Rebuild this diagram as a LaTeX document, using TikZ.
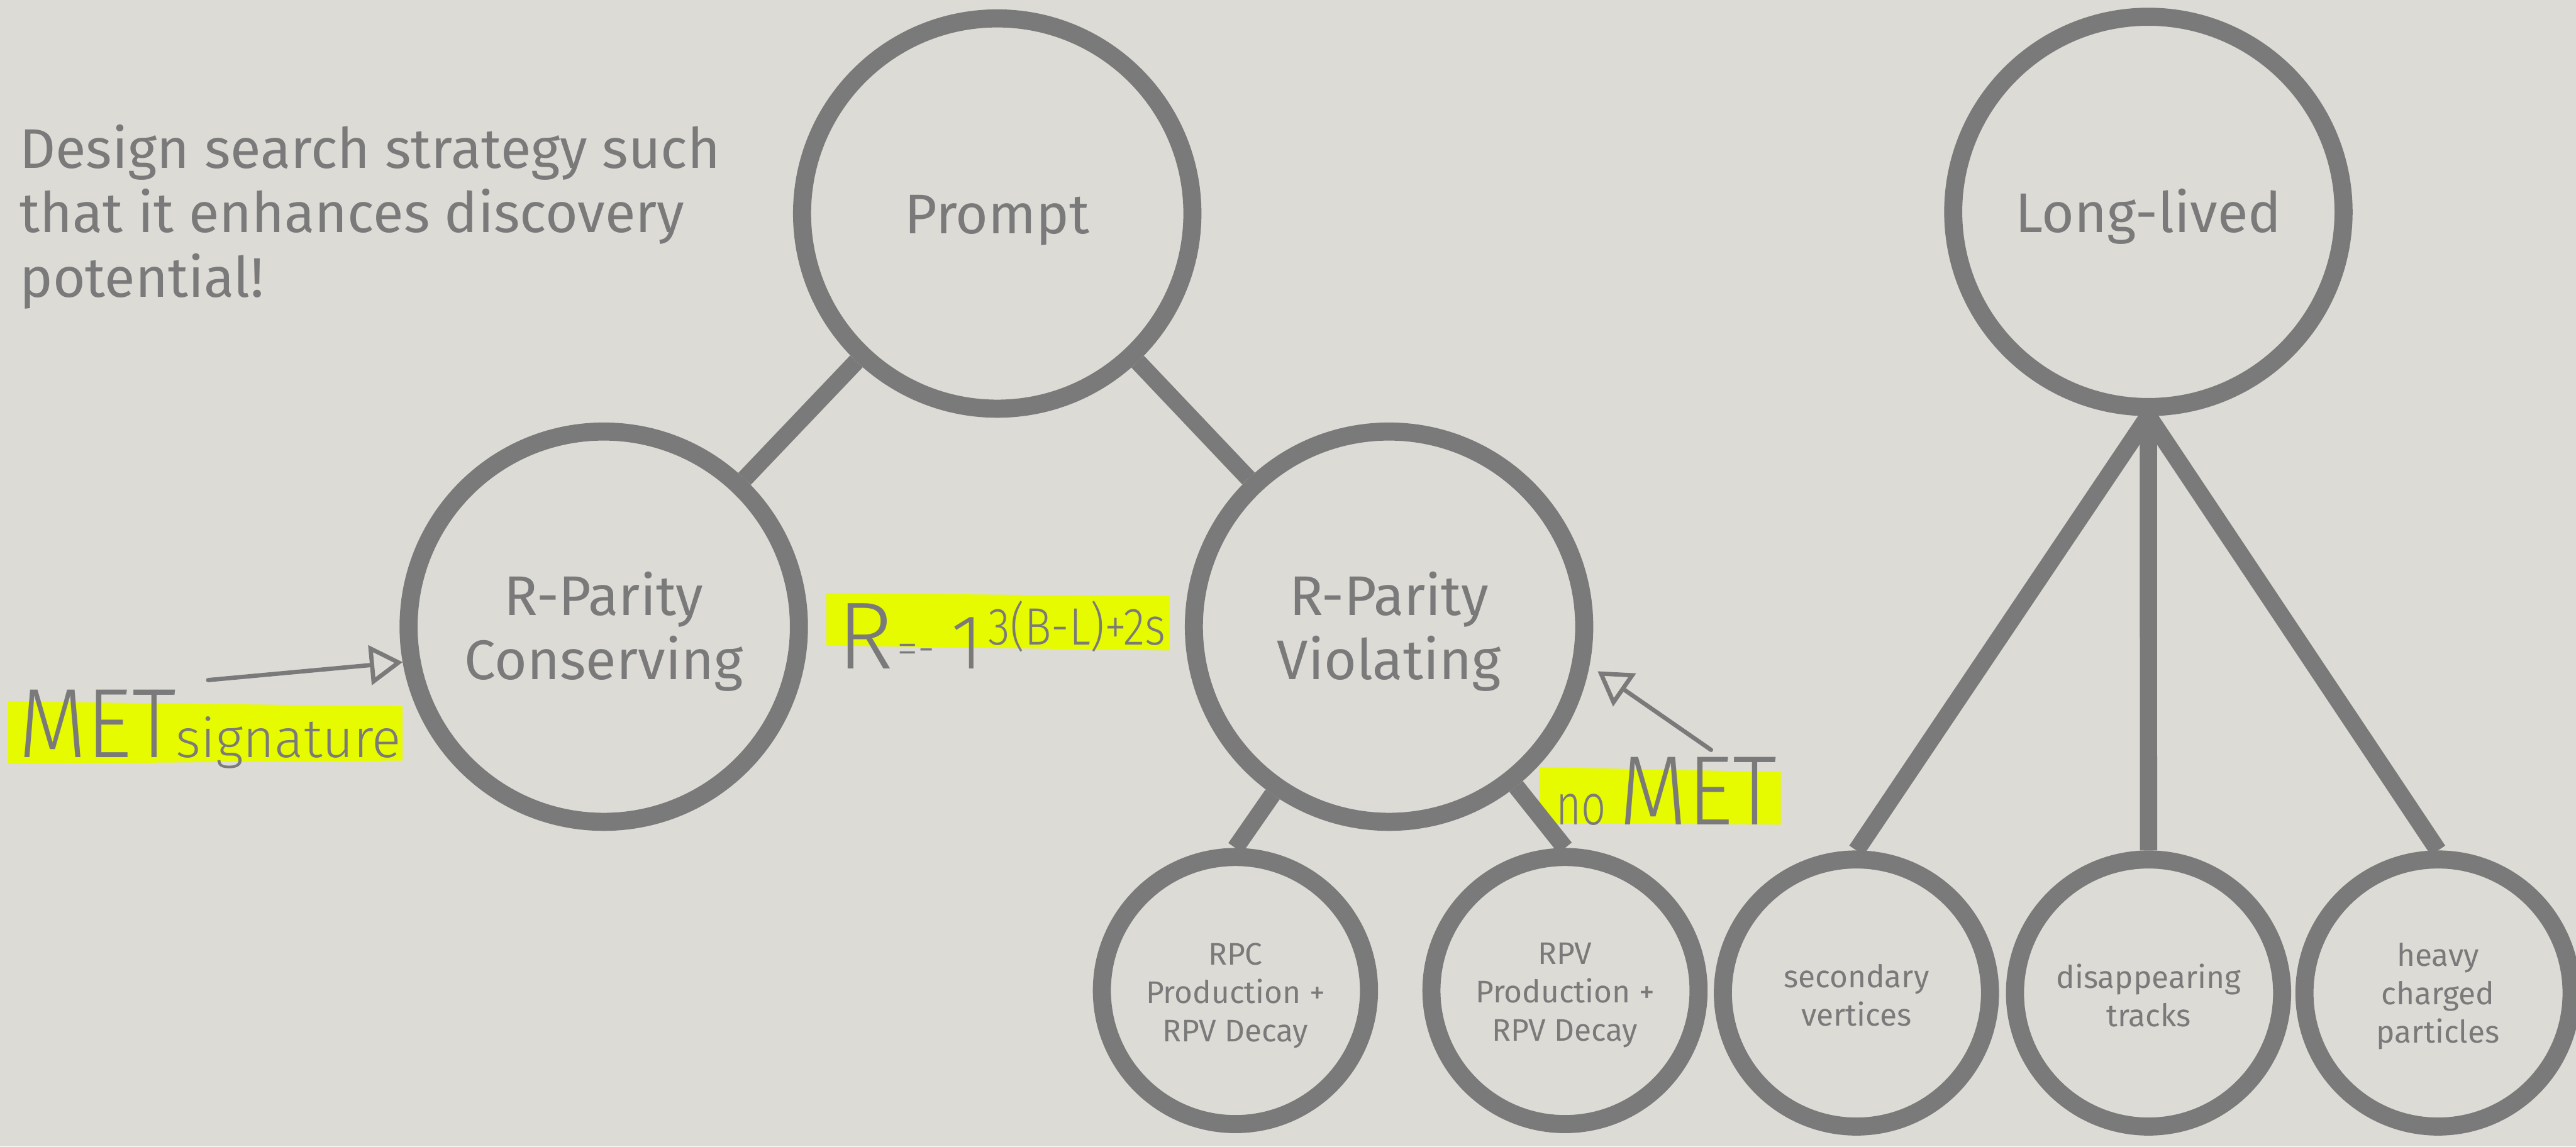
\documentclass[tikz,border=0pt]{standalone}
\usepackage{fontspec}
\setmainfont{Fira Sans}
\newfontfamily\handfont{Fira Sans Light}
\usepackage{graphicx}
\usetikzlibrary{arrows.meta}

\definecolor{paper}{RGB}{221,219,214}
\definecolor{ink}{RGB}{122,122,122}
\definecolor{hilite}{RGB}{230,250,0}
\newcommand\fsz[2]{\fontsize{#1}{#2}\selectfont}

\begin{document}
\begin{tikzpicture}[x=1pt,y=-1pt,
  bubble/.style={circle, draw=ink, line width=11pt, inner sep=0pt,
    minimum size=237.6pt},
  smallbubble/.style={circle, draw=ink, line width=11pt, inner sep=0pt,
    minimum size=162.6pt},
  bigtext/.style={text=ink, align=center, inner sep=0pt, font=\fsz{34}{39}},
  smalltext/.style={text=ink, align=center, inner sep=0pt, font=\fsz{19}{23.3}},
  link/.style={draw=ink, line width=10.5pt},
  hand/.style={text=ink, inner sep=0pt, anchor=base west, font=\handfont},
  highlight/.style={fill=hilite},
  scribble/.style={draw=ink, line width=2.6pt, line cap=round,
    -{Triangle[open, length=20pt, width=24pt, line width=2.6pt]}}
]
% paper
\fill[paper] (0,0) rectangle (1568,698);
\useasboundingbox (0,0) rectangle (1568,698);

% marker strokes
\fill[highlight] (5,427) -- (245,430) -- (245,463) -- (5,465) -- cycle;
\fill[highlight] (503,361) -- (712,363) -- (712,396) -- (503,393) -- cycle;
\fill[highlight] (937,467) -- (1084,470) -- (1084,502) -- (937,501) -- cycle;

% heading (base anchor sits on the last line)
\node[text=ink, anchor=base west, align=left, inner sep=0pt, font=\fsz{34}{39.2}]
  (goal) at (11.8,180.7) {Design search strategy such\\that it enhances discovery\\potential!};

% bubbles
\node[bubble] (prompt) at (607,130) {};
\node[bubble] (rpc) at (367.5,381.5) {};
\node[bubble] (rpv) at (845.5,381.5) {};
\node[bubble] (ll) at (1307.7,129) {};

\node[smallbubble] (rpcdec) at (752,603) {};
\node[smallbubble] (rpvdec) at (952.6,603) {};
\node[smallbubble] (sv) at (1130,604.5) {};
\node[smallbubble] (dt) at (1307.8,604.5) {};
\node[smallbubble] (hcp) at (1484,604.5) {};

% bubble captions
\node[bigtext, yshift=-4pt] (prompt-t) at (prompt) {Prompt};
\node[bigtext, yshift=-3pt] (rpc-t) at (rpc) {R-Parity\\Conserving};
\node[bigtext, yshift=-3pt] (rpv-t) at (rpv) {R-Parity\\Violating};
\node[bigtext, yshift=-3pt] (ll-t) at (ll) {Long-lived};
\node[smalltext, yshift=-3pt] (rpcdec-t) at (rpcdec) {RPC\\Production +\\RPV Decay};
\node[smalltext, yshift=-3pt] (rpvdec-t) at (rpvdec) {RPV\\Production +\\RPV Decay};
\node[smalltext, yshift=-1.5pt] (sv-t) at (sv) {secondary\\vertices};
\node[smalltext, yshift=-1.5pt] (dt-t) at (dt) {disappearing\\tracks};
\node[smalltext, yshift=-2pt] (hcp-t) at (hcp) {heavy\\charged\\particles};

% tree links
\draw[link] (prompt) -- (rpc);
\draw[link] (prompt) -- (rpv);
\draw[link] (rpv) -- (rpcdec.north);
\draw[link] (rpv) -- (rpvdec.north);
\draw[link] (ll.south) -- (sv.north);
\draw[link] (ll.south) -- (dt.north);
\draw[link] (ll.south) -- (hcp.north);

% handwritten notes
\node[hand] (metsig) at (11,461)
  {\scalebox{0.9}[1]{\fsz{60}{62}MET}\fsz{33}{35}signature};
\node[hand] (nomet) at (947,502)
  {\scalebox{0.75}[1]{\fsz{35}{37}no}\hspace{8pt}\scalebox{0.9}[1]{\fsz{60}{62}MET}};
\node[hand] (rparity) at (509.5,407)
  {\fsz{58}{60}R\hspace{2pt}\raisebox{3.5pt}{\fsz{26}{28}=-}\hspace{10pt}\fsz{47}{50}1\hspace{3pt}\raisebox{14.5pt}{\scalebox{0.85}[1]{\fsz{32}{34}3(B-L)+2s}}};

% pointers
\coordinate (metfrom) at (126.7,414);
\coordinate (nometfrom) at (1041.5,456.5);
\draw[scribble] (metfrom) -- (rpc.190.5);
\draw[scribble, shorten >=6pt] (nometfrom) -- (rpv.-11);
\end{tikzpicture}
\end{document}
